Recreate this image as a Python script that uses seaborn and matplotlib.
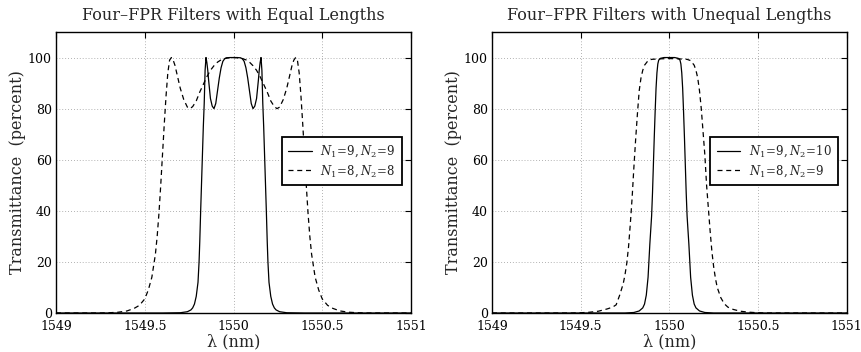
import numpy as np
import pandas as pd
import seaborn as sns
import matplotlib
matplotlib.use("Agg")
import matplotlib.pyplot as plt

# wavelength (nm) and transmittance (percent)

# equal lengths, N1=9, N2=9
eq9_x = [1549.00, 1549.60, 1549.70, 1549.74, 1549.76, 1549.77, 1549.78, 1549.79, 1549.80, 1549.806,
         1549.81, 1549.815, 1549.82, 1549.825, 1549.83, 1549.835, 1549.84, 1549.845, 1549.85, 1549.855,
         1549.86, 1549.87, 1549.88, 1549.89, 1549.90, 1549.91, 1549.92, 1549.93, 1549.94, 1549.95,
         1549.96, 1549.98, 1550.00, 1550.02, 1550.04, 1550.05, 1550.06, 1550.07, 1550.08, 1550.09,
         1550.10, 1550.11, 1550.12, 1550.13, 1550.14, 1550.145, 1550.15, 1550.155, 1550.16, 1550.165,
         1550.17, 1550.175, 1550.18, 1550.185, 1550.19, 1550.194, 1550.20, 1550.21, 1550.22, 1550.23,
         1550.24, 1550.26, 1550.30, 1550.40, 1551.00]
eq9_y = [0, 0, 0.1, 0.5, 1.2, 2, 3.5, 6.5, 12, 20,
         28, 40, 51, 62, 73, 82, 95, 100, 98, 95,
         91, 84, 81, 80, 82, 87, 92, 96, 98.5, 99.5,
         99.9, 100, 100, 100, 99.9, 99.5, 98.5, 96, 92, 87,
         82, 80, 81, 84, 91, 95, 98, 100, 95, 82,
         73, 62, 51, 40, 28, 20, 12, 6.5, 3.5, 2,
         1.2, 0.5, 0.1, 0, 0]

# equal lengths, N1=8, N2=8
eq8_x = [1549.00, 1549.25, 1549.30, 1549.35, 1549.40, 1549.44, 1549.47, 1549.50, 1549.52, 1549.54,
         1549.56, 1549.57, 1549.58, 1549.59, 1549.60, 1549.61, 1549.62, 1549.63, 1549.64, 1549.65,
         1549.66, 1549.67, 1549.68, 1549.69, 1549.70, 1549.72, 1549.74, 1549.755, 1549.77, 1549.79,
         1549.81, 1549.83, 1549.85, 1549.87, 1549.89, 1549.91, 1549.93, 1549.95, 1549.975, 1550.00,
         1550.025, 1550.05, 1550.07, 1550.09, 1550.11, 1550.13, 1550.15, 1550.17, 1550.19, 1550.21,
         1550.23, 1550.245, 1550.26, 1550.28, 1550.30, 1550.31, 1550.32, 1550.33, 1550.34, 1550.35,
         1550.36, 1550.37, 1550.38, 1550.39, 1550.40, 1550.41, 1550.42, 1550.43, 1550.44, 1550.46,
         1550.48, 1550.50, 1550.53, 1550.56, 1550.60, 1550.65, 1550.70, 1550.75, 1551.00]
eq8_y = [0, 0, 0.1, 0.3, 0.8, 1.8, 3, 5.5, 9, 14,
         23, 30, 39, 50, 62, 74, 85, 94, 99, 100,
         99, 97, 94, 91, 88, 83.5, 80.6, 80, 80.8, 83,
         86.5, 89.5, 92.5, 95, 96.8, 98.2, 99.1, 99.6, 99.9, 100,
         99.9, 99.6, 99.1, 98.2, 96.8, 95, 92.5, 89.5, 86.5, 83,
         80.8, 80, 80.6, 83.5, 88, 91, 94, 97, 99, 100,
         99, 94, 85, 74, 62, 50, 39, 30, 23, 14,
         9, 5.5, 3, 1.8, 0.8, 0.3, 0.1, 0, 0]

# unequal lengths, N1=9, N2=10
uq9_x = [1549.00, 1549.75, 1549.80, 1549.83, 1549.85, 1549.86, 1549.87, 1549.88, 1549.89, 1549.90,
         1549.905, 1549.91, 1549.915, 1549.92, 1549.925, 1549.93, 1549.935, 1549.94, 1549.95, 1549.97,
         1550.00, 1550.03, 1550.05, 1550.06, 1550.065, 1550.07, 1550.075, 1550.08, 1550.085, 1550.09,
         1550.095, 1550.10, 1550.11, 1550.12, 1550.13, 1550.14, 1550.15, 1550.17, 1550.20, 1550.25,
         1551.00]
uq9_y = [0, 0, 0.2, 0.8, 2, 3.5, 7, 14, 27, 38,
         47, 58, 69, 79, 88, 94, 97.5, 99, 99.7, 100,
         100, 100, 99.7, 99, 97.5, 94, 88, 79, 69, 58,
         47, 38, 27, 14, 7, 3.5, 2, 0.8, 0.2, 0,
         0]

# unequal lengths, N1=8, N2=9
uq8_x = [1549.00, 1549.45, 1549.50, 1549.55, 1549.60, 1549.65, 1549.68, 1549.70, 1549.72, 1549.74,
         1549.75, 1549.76, 1549.77, 1549.78, 1549.79, 1549.80, 1549.81, 1549.82, 1549.83, 1549.84,
         1549.85, 1549.86, 1549.88, 1549.90, 1549.95, 1550.00, 1550.05, 1550.10, 1550.12, 1550.14,
         1550.15, 1550.16, 1550.17, 1550.18, 1550.19, 1550.20, 1550.21, 1550.22, 1550.23, 1550.24,
         1550.25, 1550.26, 1550.27, 1550.29, 1550.31, 1550.33, 1550.36, 1550.40, 1550.45, 1550.50,
         1550.55, 1551.00]
uq8_y = [0, 0, 0.1, 0.3, 0.7, 1.6, 2.3, 3.2, 7, 11.5,
         15, 19.5, 26, 35, 45, 57, 68, 78, 87, 92,
         95, 97, 98.8, 99.3, 99.5, 99.6, 99.5, 99.3, 98.8, 97,
         95, 92, 87, 80, 71, 62, 50, 41, 32, 24,
         18, 13.5, 10, 6, 3.6, 2.3, 1.4, 0.7, 0.3, 0.1,
         0, 0]

titles = ["Four\u2013FPR Filters with Equal Lengths", "Four\u2013FPR Filters with Unequal Lengths"]
labels_eq = [r"$N_1\!=\!9,N_2\!=\!9$", r"$N_1\!=\!8,N_2\!=\!8$"]
labels_uq = [r"$N_1\!=\!9,N_2\!=\!10$", r"$N_1\!=\!8,N_2\!=\!9$"]
x_ticks = [1549, 1549.5, 1550, 1550.5, 1551]
x_ticklabels = ["1549", "1549.5", "1550", "1550.5", "1551"]
y_ticks = [0, 20, 40, 60, 80, 100]

sns.set_style("white")
plt.rcParams['font.family'] = ['DejaVu Serif']
plt.rcParams['mathtext.fontset'] = 'dejavuserif'

fig = plt.figure(figsize=(8.62, 3.52), dpi=100)
ax1 = fig.add_axes([56/862, 39/352, 355/862, 281/352])
ax2 = fig.add_axes([492/862, 39/352, 354.7/862, 281/352])

panels = [
    (ax1, titles[0], (eq9_x, eq9_y), (eq8_x, eq8_y), labels_eq),
    (ax2, titles[1], (uq9_x, uq9_y), (uq8_x, uq8_y), labels_uq),
]

for ax, title, solid, dashed, labs in panels:
    df_s = pd.DataFrame({"wl": solid[0], "T": solid[1]})
    df_d = pd.DataFrame({"wl": dashed[0], "T": dashed[1]})
    sns.lineplot(data=df_s, x="wl", y="T", ax=ax, color="black", lw=0.9, label=labs[0],
                 estimator=None, sort=False)
    sns.lineplot(data=df_d, x="wl", y="T", ax=ax, color="black", lw=0.9, linestyle=(0, (4, 3)),
                 label=labs[1], estimator=None, sort=False)
    ax.set_xlim(1549, 1551)
    ax.set_ylim(0, 110)
    ax.set_xticks(x_ticks)
    ax.set_xticklabels(x_ticklabels)
    ax.set_yticks(y_ticks)
    ax.grid(True, linestyle=(0, (1, 2.5)), color="#999999", lw=0.6)
    ax.tick_params(direction="in", top=True, right=True, length=4, width=0.8,
                   labelsize=9, colors="black")
    ax.tick_params(axis="x", pad=5)
    ax.tick_params(axis="y", pad=3)
    for sp in ax.spines.values():
        sp.set_visible(True)
        sp.set_color("black")
        sp.set_linewidth(1.0)
    ax.set_title(title, fontsize=11.5, pad=9)
    ax.set_xlabel("\u03bb (nm)", fontsize=11.5, labelpad=0.5)
    ax.set_ylabel("Transmittance  (percent)", fontsize=11.5, labelpad=1)
    leg = ax.legend(loc="center right", bbox_to_anchor=(0.975, 0.54), borderaxespad=0,
                    fontsize=8.5, frameon=True, fancybox=False, framealpha=1, edgecolor="black",
                    handlelength=2.0, handletextpad=0.7, borderpad=0.55, labelspacing=0.35)
    leg.get_frame().set_linewidth(1.3)

fig.savefig("out.png", dpi=100)
